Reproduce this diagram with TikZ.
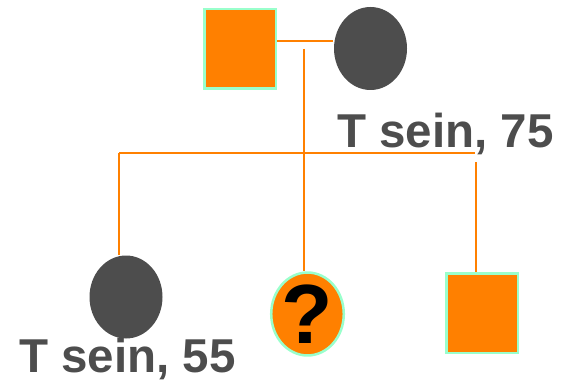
\documentclass[tikz,border=0pt]{standalone}
\usepackage{fontspec}
\setmainfont{Liberation Sans}
\usetikzlibrary{shapes.geometric}
\definecolor{pedorange}{HTML}{FF8000}
\definecolor{pedgray}{HTML}{4D4D4D}
\definecolor{pedmint}{HTML}{99FFCC}
\tikzset{
  male/.style={rectangle, fill=pedorange, draw=pedmint, line width=2.5pt,
    inner sep=0pt, minimum width=71.5pt, minimum height=79.5pt},
  female/.style={ellipse, fill=pedgray, inner sep=0pt,
    minimum width=73pt, minimum height=83pt},
  unknown/.style={ellipse, fill=pedorange, draw=pedmint, line width=2.5pt,
    inner sep=0pt, minimum width=66.5pt, minimum height=75.5pt},
  link/.style={draw=pedorange, line width=2.6pt},
  tag/.style={anchor=base west, inner sep=0pt, text=pedgray,
    font=\fontsize{47.5}{47.5}\selectfont\bfseries}
}
\begin{document}
\begin{tikzpicture}[x=1pt,y=-1pt]
 \useasboundingbox (0,0) rectangle (561,390);
 % parents
 \node[male] (father) at (240,49) {};
 \node[female] (mother) at (370.5,48.5) {};
 \node[tag] (mothertag) at (337,147) {T sein, 75};
 % children
 \node[female] (sister) at (126,297) {};
 \node[unknown] (proband) at (307.5,314) {\raisebox{-3pt}{\fontsize{84}{84}\selectfont\bfseries ?}};
 \node[male] (brother) at (482,313) {};
 \node[tag] (sistertag) at (19,372) {T sein, 55};
 % lines
 \coordinate (mateL) at (father.east |- 0,41);
 \coordinate (mateR) at (333,41);
 \coordinate (mate) at (304,49);
 \coordinate (sibL) at (119,153);
 \coordinate (sibR) at (475,153);
 \coordinate (brtop) at (476,162);
 \draw[link] (mateL) -- (mateR);
 \draw[link] (mate) -- (proband.north -| mate);
 \draw[link] (sibL) -- (sibR);
 \draw[link] (sibL) -- (sister.north -| sibL);
 \draw[link] (brtop) -- (brother.north -| brtop);
\end{tikzpicture}
\end{document}
